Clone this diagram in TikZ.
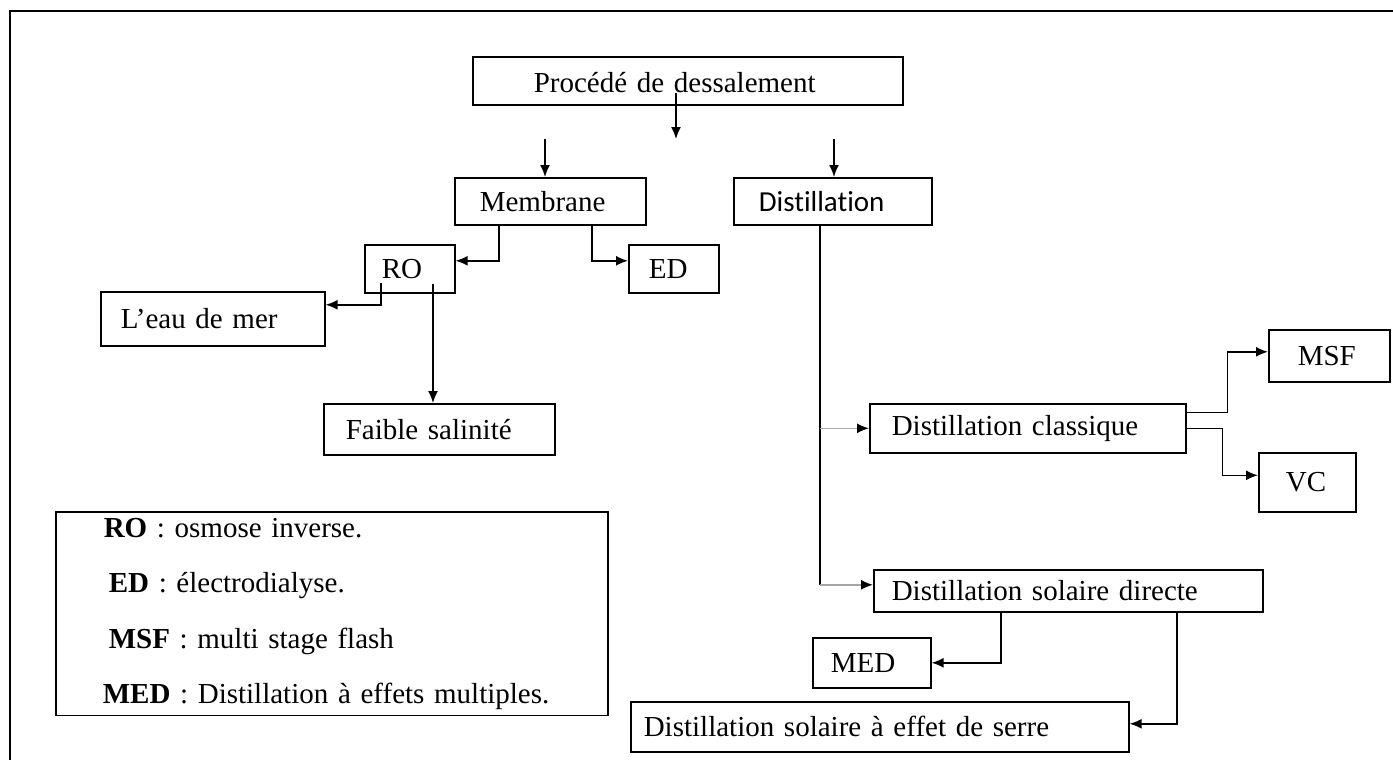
\documentclass[tikz,border=0pt]{standalone}
\usepackage{fontspec}
\setmainfont{Liberation Serif}
\newfontfamily\calibri{Carlito}[Ligatures=NoCommon]
\usetikzlibrary{arrows.meta}

\begin{document}
\begin{tikzpicture}[x=1pt, y=-1pt,
  box/.style={draw, line width=1.6pt, anchor=north west, inner ysep=0pt,
    align=left, font=\fontsize{29}{34}\selectfont},
  conn/.style={line width=1.6pt},
  arr/.style={conn, -{Latex[length=12pt,width=10pt]}},
  garr/.style={conn, draw=gray!70, -{Latex[length=12pt,width=10pt,color=black]}}]
\useasboundingbox (0,0) rectangle (1393,760);
% outer frame
\draw[line width=2.6pt] (10,760) -- (10,11) -- (1393,11);

% boxes
\node[box, inner xsep=61pt, text width=308pt, minimum height=48pt, text height=24pt] (proc) at (472,56) {Procédé de dessalement};
\node[box, inner xsep=25pt, text width=141pt, minimum height=47pt] (memb) at (454,177) {Membrane};
\node[box, inner xsep=25pt, text width=148pt, minimum height=47pt, font=\calibri\fontsize{29}{34}\selectfont] (dist) at (733,177) {Distillation};
\node[box, inner xsep=17pt, text width=56pt, minimum height=48pt] (ro) at (364,244) {RO};
\node[box, inner xsep=20pt, text width=50pt, minimum height=48pt] (ed) at (628,244) {ED};
\node[box, inner xsep=20pt, text width=184pt, minimum height=54pt] (eau) at (100,291) {L’eau de mer};
\node[box, inner xsep=22pt, text width=187pt, minimum height=51pt] (faible) at (323,403) {Faible salinité};
\node[box, inner xsep=29pt, text width=63pt, minimum height=52pt] (msf) at (1268,329) {MSF};
\node[box, inner xsep=22pt, text width=272pt, minimum height=49pt] (dc) at (869,403) {Distillation classique};
\node[box, inner xsep=27pt, text width=43pt, minimum height=59pt] (vc) at (1258,452) {VC};
\node[box, inner xsep=18pt, text width=353pt, minimum height=42pt] (dsd) at (873,569) {Distillation solaire directe};
\node[box, inner xsep=18pt, text width=82pt, minimum height=50pt] (med) at (812,637) {MED};
\node[box, inner xsep=13pt, text width=472pt, minimum height=50pt] (serre) at (630,701) {Distillation solaire à effet de serre};

% legende
\node[box, inner xsep=0pt, inner ysep=6pt, text width=552pt, font=\fontsize{29}{55.5}\selectfont] (leg) at (55,511)
  {\hspace*{48pt}\textbf{RO} : osmose inverse.\\
   \hspace*{53pt}\textbf{ED} : électrodialyse.\\
   \hspace*{53pt}\textbf{MSF} : multi stage flash\\
   \hspace*{47pt}\textbf{MED} : Distillation à effets multiples.};

% fleches libres
\coordinate (pstart) at (676,93);
\coordinate (pend) at (676,139);
\coordinate (mtop) at (545,139);
\coordinate (dtop) at (834,139);
\draw[arr] (pstart) -- (pend);
\draw[arr] (mtop) -- (mtop |- memb.north);
\draw[arr] (dtop) -- (dtop |- dist.north);

% membrane
\draw[arr] ([xshift=45pt]memb.south west) |- ([yshift=8pt]ro.east);
\draw[arr] ([xshift=138pt]memb.south west) |- ([yshift=8pt]ed.west);
\draw[arr] ([xshift=17pt,yshift=11pt]ro.south west) |- ([yshift=14pt]eau.east);
\draw[arr] ([xshift=69pt,yshift=10pt]ro.south west) -- ([xshift=110pt]faible.north west);

% distillation
\coordinate (dstem) at ([xshift=87pt]dist.south west);
\coordinate (dsdin) at ([yshift=6pt]dsd.west);
\draw[conn] (dstem) -- (dstem |- dsdin);
\draw[garr] (dstem |- dc.west) -- (dc.west);
\draw[garr] (dstem |- dsdin) -- (dsdin);
\draw[arr] ([yshift=16pt]dc.east) -- ++(41,0) |- ([yshift=4pt]msf.west);
\draw[arr] (dc.east) -- ++(36,0) |- ([yshift=7pt]vc.west);
\draw[arr] ([xshift=128pt]dsd.south west) |- (med.east);
\draw[arr] ([xshift=304pt]dsd.south west) |- ([yshift=3pt]serre.east);
\end{tikzpicture}
\end{document}
